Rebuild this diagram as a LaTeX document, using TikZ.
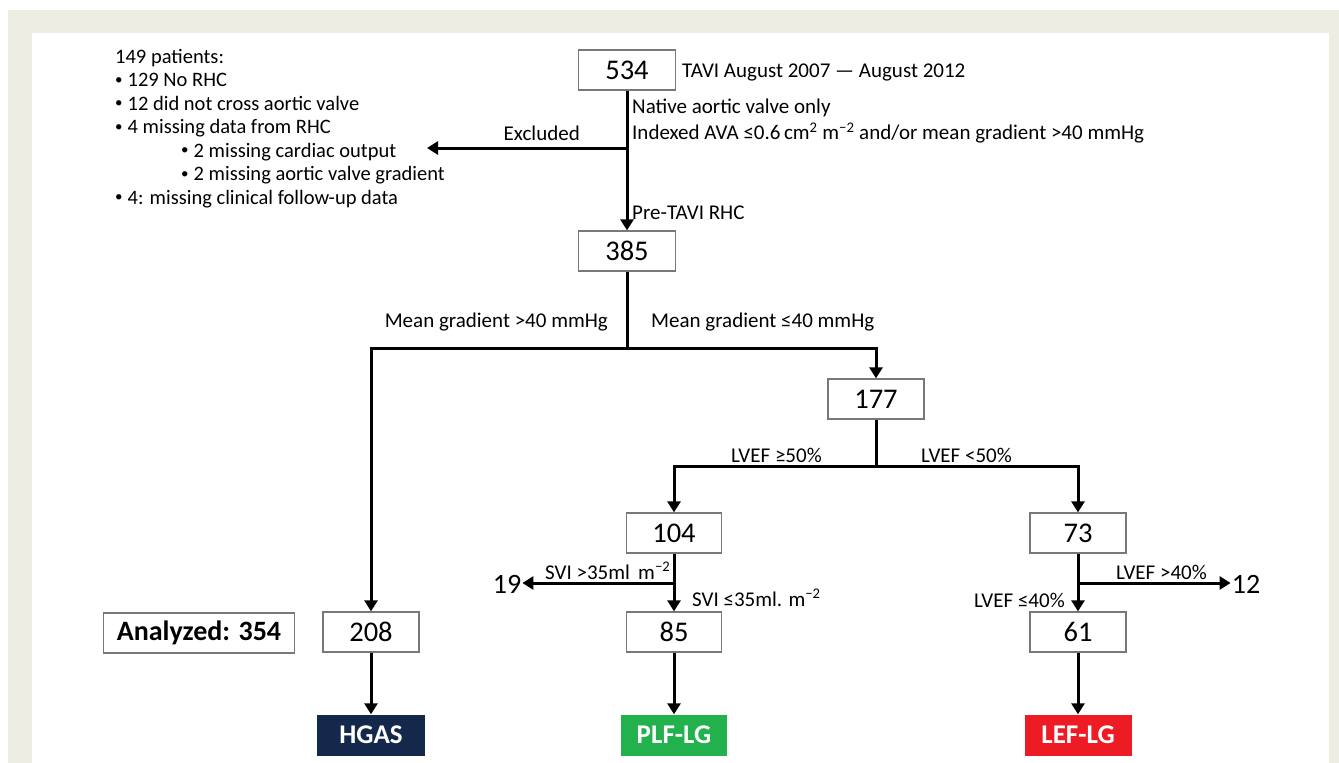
\documentclass[tikz,border=0pt]{standalone}
\usepackage{fontspec}
\setmainfont{Carlito}
\usetikzlibrary{arrows.meta}
\definecolor{framebg}{RGB}{238,237,228}
\definecolor{boxgray}{RGB}{120,120,120}
\definecolor{hgasblue}{RGB}{20,40,75}
\definecolor{plfgreen}{RGB}{34,177,76}
\definecolor{lefred}{RGB}{237,28,36}
\newcommand{\bul}{\raisebox{2.5pt}{\fontsize{15}{15}\selectfont•}\hspace{5pt}}
\begin{document}
\begin{tikzpicture}[x=1pt,y=-1pt,
  box/.style={draw=boxgray, line width=1.3pt, fill=white, minimum width=96pt, minimum height=40pt, inner sep=0pt, font=\fontsize{28.5}{30}\selectfont},
  grp/.style={minimum width=107pt, minimum height=41pt, inner sep=0pt, font=\bfseries\fontsize{27}{30}\selectfont, text=white},
  lbl/.style={inner sep=0pt, font=\fontsize{21}{24}\selectfont},
  num/.style={inner sep=1pt, font=\fontsize{28}{30}\selectfont},
  ln/.style={line width=3pt},
  arr/.style={ln, -{Triangle[width=13pt,length=11pt]}}]
\useasboundingbox (0,0) rectangle (1339,763);
\fill[white] (0,0) rectangle (1339,763);
\fill[framebg] (8,10) rectangle (1339,763);
\fill[white] (32,33) rectangle (1329,763);

% boxes
\node[box, minimum width=97pt] (n534) at (627,70) {534};
\node[box, minimum width=97pt] (n385) at (627,251) {385};
\node[box] (n177) at (876,399) {177};
\node[box, minimum width=95pt] (n104) at (674,533) {104};
\node[box] (n73) at (1078,533) {73};
\node[box] (n208) at (371,632) {208};
\node[box, minimum width=95pt] (n85) at (674,632) {85};
\node[box] (n61) at (1078,632) {61};
\node[box, minimum width=191pt, font=\bfseries\fontsize{28}{30}\selectfont] (an) at (199,633) {Analyzed: 354};

\node[grp, fill=hgasblue, minimum width=108pt] (hgas) at (371,735) {HGAS};
\node[grp, fill=plfgreen, minimum width=106pt] (plf) at (674,735) {PLF-LG};
\node[grp, fill=lefred, minimum width=107pt] (lef) at (1078,735) {LEF-LG};

\node[num] (n19) at (507,584) {19};
\node[num] (n12) at (1246,584) {12};

% labels
\node[lbl, anchor=west] (tavi) at (682,72) {TAVI August 2007 — August 2012};
\node[lbl, anchor=west] (nat) at (632,108) {Native aortic valve only};
\node[lbl, anchor=west] (ind) at (632,133) {Indexed AVA ≤0.6\,cm\textsuperscript{2} m\textsuperscript{−2} and/or mean gradient >40 mmHg};
\node[lbl, anchor=east] (exl) at (580,133) {Excluded};
\node[lbl, anchor=west] (pre) at (632,213) {Pre-TAVI RHC};
\node[lbl, anchor=east] (mg1) at (608,322) {Mean gradient >40 mmHg};
\node[lbl, anchor=west] (mg2) at (651,322) {Mean gradient ≤40 mmHg};
\node[lbl, anchor=east] (lv1) at (822,455) {LVEF ≥50\%};
\node[lbl, anchor=west] (lv2) at (921,455) {LVEF <50\%};
\node[lbl, anchor=west] (sv1) at (545,571) {SVI >35ml\, m\textsuperscript{−2}};
\node[lbl, anchor=west] (sv2) at (692,598) {SVI ≤35ml. m\textsuperscript{−2}};
\node[lbl, anchor=west] (lv3) at (1116,572) {LVEF >40\%};
\node[lbl, anchor=east] (lv4) at (1065,600) {LVEF ≤40\%};

\node[lbl, anchor=north west, align=left, font=\fontsize{20.5}{23.5}\selectfont] (excl) at (115,49)
 {149 patients:\\
  \bul 129 No RHC\\
  \bul 12 did not cross aortic valve\\
  \bul 4 missing data from RHC\\
  \hspace*{66pt}\bul 2 missing cardiac output\\
  \hspace*{66pt}\bul 2 missing aortic valve gradient\\
  \bul 4: missing clinical follow-up data};

% connectors
\coordinate (ex) at (427,148);
\coordinate (b1) at (627,348);
\coordinate (b2) at (876,466);
\coordinate (b3) at (674,583);
\coordinate (b4) at (1078,583);

\draw[arr] (n534.south) -- (n385.north);
\draw[arr] (n534.south |- ex) -- (ex);
\draw[arr] (n385.south) |- (n208.north |- b1) -- (n208.north);
\draw[arr] (n385.south) |- (n177.north |- b1) -- (n177.north);
\draw[arr] (n177.south) |- (n104.north |- b2) -- (n104.north);
\draw[arr] (n177.south) |- (n73.north |- b2) -- (n73.north);
\draw[arr] (n104.south) -- (n85.north);
\draw[arr] (n104.south |- b3) -- (n19.east |- b3);
\draw[arr] (n73.south) -- (n61.north);
\draw[arr] (n73.south |- b4) -- (n12.west |- b4);
\draw[arr] (n208.south) -- (hgas.north);
\draw[arr] (n85.south) -- (plf.north);
\draw[arr] (n61.south) -- (lef.north);
\end{tikzpicture}
\end{document}
